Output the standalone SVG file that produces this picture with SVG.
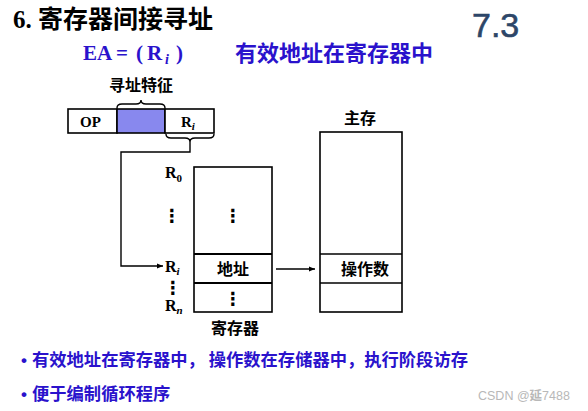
<svg xmlns="http://www.w3.org/2000/svg" width="588" height="411" viewBox="0 0 588 411">
<defs>
<style>
.cjk{font-family:"Noto Sans CJK SC","Noto Sans",sans-serif;font-weight:700}
.tm{font-family:"Liberation Serif",serif;font-weight:700}
.blue{fill:#2a12cc}
.box{fill:#fff;stroke:#000;stroke-width:1.6}
.ln{fill:none;stroke:#000;stroke-width:1.4}
.lbl{font-size:16px;fill:#000}
.dots{font-family:"DejaVu Sans",sans-serif;font-weight:700;font-size:18px;fill:#000;text-anchor:middle}
</style>
<marker id="ah" viewBox="0 0 10 10" refX="10" refY="5" markerWidth="6" markerHeight="6" markerUnits="userSpaceOnUse" orient="auto">
<path d="M0,1 L10,5 L0,9 Z" fill="#000"/>
</marker>
</defs>
<rect width="588" height="411" fill="#fff"/>

<g id="title">
<text x="13" y="28" font-size="25"><tspan class="tm">6. </tspan><tspan class="cjk">寄存器间接寻址</tspan></text>
<text x="472" y="37" font-family="Liberation Sans, Arial, sans-serif" font-size="34" fill="#2d4668" stroke="#2d4668" stroke-width="0.6">7.3</text>
</g>

<g id="formula" class="blue">
<text class="tm" font-size="21" y="60"><tspan x="83">EA</tspan><tspan x="116">=</tspan><tspan x="136">(</tspan><tspan x="147">R</tspan></text>
<text class="tm" x="165" y="64" font-size="14" font-style="italic">i</text>
<text class="tm" x="176" y="60" font-size="21">)</text>
<text class="cjk" x="235" y="61" font-size="22">有效地址在寄存器中</text>
</g>

<g id="instruction">
<rect class="box" x="68" y="109" width="49" height="24"/>
<rect x="117" y="109" width="48" height="24" fill="#8888ee" stroke="#000" stroke-width="1.6"/>
<rect class="box" x="165" y="109" width="49" height="24"/>
<text class="tm" x="80" y="127" font-size="15">OP</text>
<text class="tm" x="181" y="127" font-size="15">R<tspan font-size="11" font-style="italic" dy="3">i</tspan></text>
<path class="ln" d="M117,108 Q117,104 122,104 L136,104 Q141,104 141,100 Q141,104 146,104 L160,104 Q165,104 165,108"/>
<text class="cjk lbl" x="109" y="91" font-size="15">寻址特征</text>
<path class="ln" d="M166,134 Q166,138 171,138 L185,138 Q190,138 190,142 Q190,138 195,138 L209,138 Q214,138 214,134"/>
</g>

<g id="registers">
<rect class="box" x="194" y="167" width="78" height="145" stroke-width="2"/>
<line x1="194" y1="254" x2="272" y2="254" stroke="#000" stroke-width="2"/>
<line x1="194" y1="283" x2="272" y2="283" stroke="#000" stroke-width="2"/>
<text class="dots" x="233" y="222">⋮</text>
<text class="cjk lbl" x="217" y="275">地址</text>
<text class="dots" x="233" y="305">⋮</text>
<text class="cjk lbl" x="211" y="334">寄存器</text>
<text class="tm" x="165" y="178" font-size="16">R<tspan font-size="11" dy="4">0</tspan></text>
<text class="dots" x="172" y="222">⋮</text>
<text class="tm" x="165" y="272" font-size="16">R<tspan font-size="11" font-style="italic" dy="3">i</tspan></text>
<text class="dots" x="173" y="294" font-size="14">⋮</text>
<text class="tm" x="165" y="311" font-size="16">R<tspan font-size="11" font-style="italic" dy="3">n</tspan></text>
</g>

<g id="memory">
<rect class="box" x="320" y="132" width="82" height="180"/>
<line x1="320" y1="254" x2="402" y2="254" stroke="#000" stroke-width="1.6"/>
<line x1="320" y1="283" x2="402" y2="283" stroke="#000" stroke-width="1.6"/>
<text class="cjk lbl" x="341" y="275">操作数</text>
<text class="cjk lbl" x="344" y="124" font-size="15">主存</text>
</g>

<g id="connectors">
<path class="ln" d="M190,142 L190,152 L121,152 L121,266 L163,266" marker-end="url(#ah)"/>
<line class="ln" x1="276" y1="269" x2="315" y2="269" marker-end="url(#ah)"/>
</g>

<g id="notes" class="blue">
<text x="21" y="366" font-family="Liberation Sans, Arial, sans-serif" font-size="17" font-weight="700">•</text>
<text class="cjk" x="32" y="366" font-size="17.3">有效地址在寄存器中， 操作数在存储器中，执行阶段访存</text>
<text x="21" y="400" font-family="Liberation Sans, Arial, sans-serif" font-size="17" font-weight="700">•</text>
<text class="cjk" x="32" y="400" font-size="17.3">便于编制循环程序</text>
</g>

<text x="478" y="400" font-family="Liberation Sans, Arial, sans-serif" font-size="12.5" fill="#b8b8b8">CSDN @<tspan class="cjk" font-weight="400">延</tspan>7488</text>
</svg>
